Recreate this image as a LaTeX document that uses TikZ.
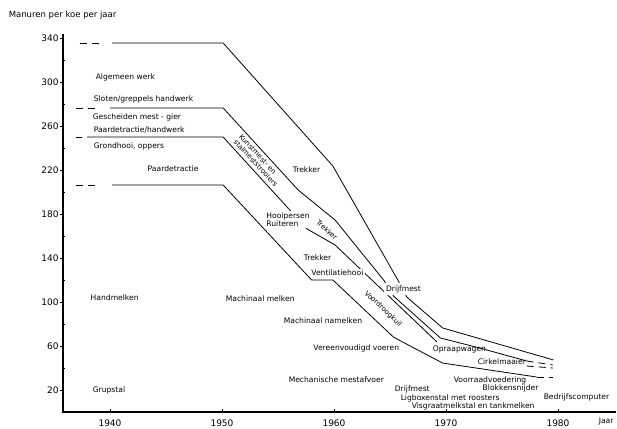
\documentclass[tikz,border=0pt]{standalone}
\usepackage{fontspec}
\setmainfont{DejaVu Sans}
\tikzset{
  curve/.style={line width=0.8pt, line join=round},
  lead/.style={curve, dash pattern=on 7pt off 5pt},
  axis/.style={line width=1.2pt},
  lbl/.style={font=\fontsize{7.6}{8.2}\selectfont, inner sep=0.6pt, anchor=west},
  cover/.style={lbl, fill=white, inner sep=1.2pt},
  slant/.style={cover, anchor=center, align=left, font=\fontsize{7}{7.5}\selectfont},
  num/.style={font=\fontsize{9}{10}\selectfont, inner sep=1pt}
}
\begin{document}
\begin{tikzpicture}[x=11.2pt, y=1.1pt]
\useasboundingbox (30.18,-14.55) rectangle (85.27,374.55);
\draw[axis] (35.8,344) coordinate (ytop) -- (35.8,0) coordinate (orig) -- (85.2,0) coordinate (xend);
\foreach \v in {20,60,...,340}
  \draw[line width=0.8pt] (35.8,\v) -- ++(-3pt,0) node[num, anchor=east] (y\v) {\v};
\foreach \v in {40,80,...,320}
  \draw[line width=0.6pt] (35.8,\v) -- ++(2pt,0);
\foreach \t in {40,50,...,80}{
  \draw[line width=0.6pt] (\t,0) -- ++(0,3pt);
  \node[num] (x\t) at (\t,-10) {19\t};
}
\node[lbl, font=\fontsize{8.5}{9}\selectfont] (titel) at (30.89,360.9) {Manuren per koe per jaar};
\node[lbl] (jaar) at (83.57,-9) {Jaar};

\draw[lead] (37.3,335.5) -- (39,335.5);
\draw[curve] (40.2,335.5) -- (50.1,335.5) -- (59.9,223.6) -- (65.7,120) -- (66.5,104.5) -- (69.7,76.4) -- (79.6,47.3);
\draw[lead] (36.96,276.4) -- (38.66,276.4);
\draw[curve] (40,276.4) -- (50.1,276.4) -- (56.8,201.8) -- (60.1,174.5) -- (64.5,119.1) -- (65.3,105.5) -- (69.5,67.3) -- (73,58.2) -- (77.2,46.4);
\draw[lead] (77.2,46.4) -- (79.55,42.7);
\draw[lead] (36.96,250) -- (37.5,250);
\draw[curve] (37.95,250) -- (50.1,250) -- (57.6,166.4) -- (60.1,151.8) -- (69.2,63.6);
\draw[lead] (77.2,41.8) -- (79.55,40);
\draw[lead] (36.96,206.4) -- (38.66,206.4);
\draw[curve] (40.2,206.4) -- (50.1,206.4) -- (58,120) -- (59.9,120) -- (65.3,68.2) -- (66.3,62.7) -- (69.7,44.5) -- (78.1,31.8);
\draw[lead] (78.1,31.8) -- (79.55,31.8);

\node[lbl] (algemeen) at (38.66,304.5) {Algemeen werk};
\node[lbl] (sloten) at (38.48,284.5) {Sloten/greppels handwerk};
\node[lbl] (gescheiden) at (38.39,268.2) {Gescheiden mest - gier};
\node[lbl] (paardhand) at (38.48,256.4) {Paardetractie/handwerk};
\node[lbl] (grondhooi) at (38.48,241.8) {Grondhooi, oppers};
\node[lbl] (paard) at (43.3,220.9) {Paardetractie};
\node[lbl] (handmelken) at (38.21,103.6) {Handmelken};
\node[lbl] (grupstal) at (38.39,20) {Grupstal};
\node[lbl] (machmelken) at (50.27,102.7) {Machinaal melken};
\node[lbl] (namelken) at (55.45,82.7) {Machinaal namelken};
\node[cover] (voeren) at (58.04,58.2) {Vereenvoudigd voeren};
\node[lbl] (mestafvoer) at (55.89,29.1) {Mechanische mestafvoer};
\node[lbl] (drijfmestb) at (65.36,20.9) {Drijfmest};
\node[lbl] (ligbox) at (65.89,12.7) {Ligboxenstal met roosters};
\node[lbl] (visgraat) at (66.88,5.5) {Visgraatmelkstal en tankmelken};
\node[lbl] (voorraad) at (70.63,29.1) {Voorraadvoedering};
\node[lbl] (blokken) at (73.21,21.8) {Blokkensnijder};
\node[lbl] (computer) at (78.66,13.6) {Bedrijfscomputer};
\node[lbl] (opraap) at (68.75,57.3) {Opraapwagen};
\node[lbl] (cirkel) at (72.77,45.5) {Cirkelmaaier};
\node[cover, inner sep=2pt] (drijfmest) at (64.45,111.8) {Drijfmest};
\node[lbl] (trekkera) at (56.25,220) {Trekker};
\node[cover, align=left, font=\fontsize{7.6}{8.2}\selectfont] (hooipers) at (53.84,175) {Hooipersen\\Ruiteren};
\node[lbl] (trekkerb) at (57.23,140) {Trekker};
\node[cover] (ventilatie) at (57.86,126.4) {Ventilatiehooi};
\node[slant, rotate=-47] (strooiers) at (53.26,228.5) {Kunstmest- en\\stalmeststrooiers};
\node[slant, rotate=-41] (trekkerc) at (59.38,165.5) {Trekker};
\node[slant, rotate=-43] (voordroog) at (64.38,93.6) {Voordroogkuil};
\end{tikzpicture}
\end{document}
